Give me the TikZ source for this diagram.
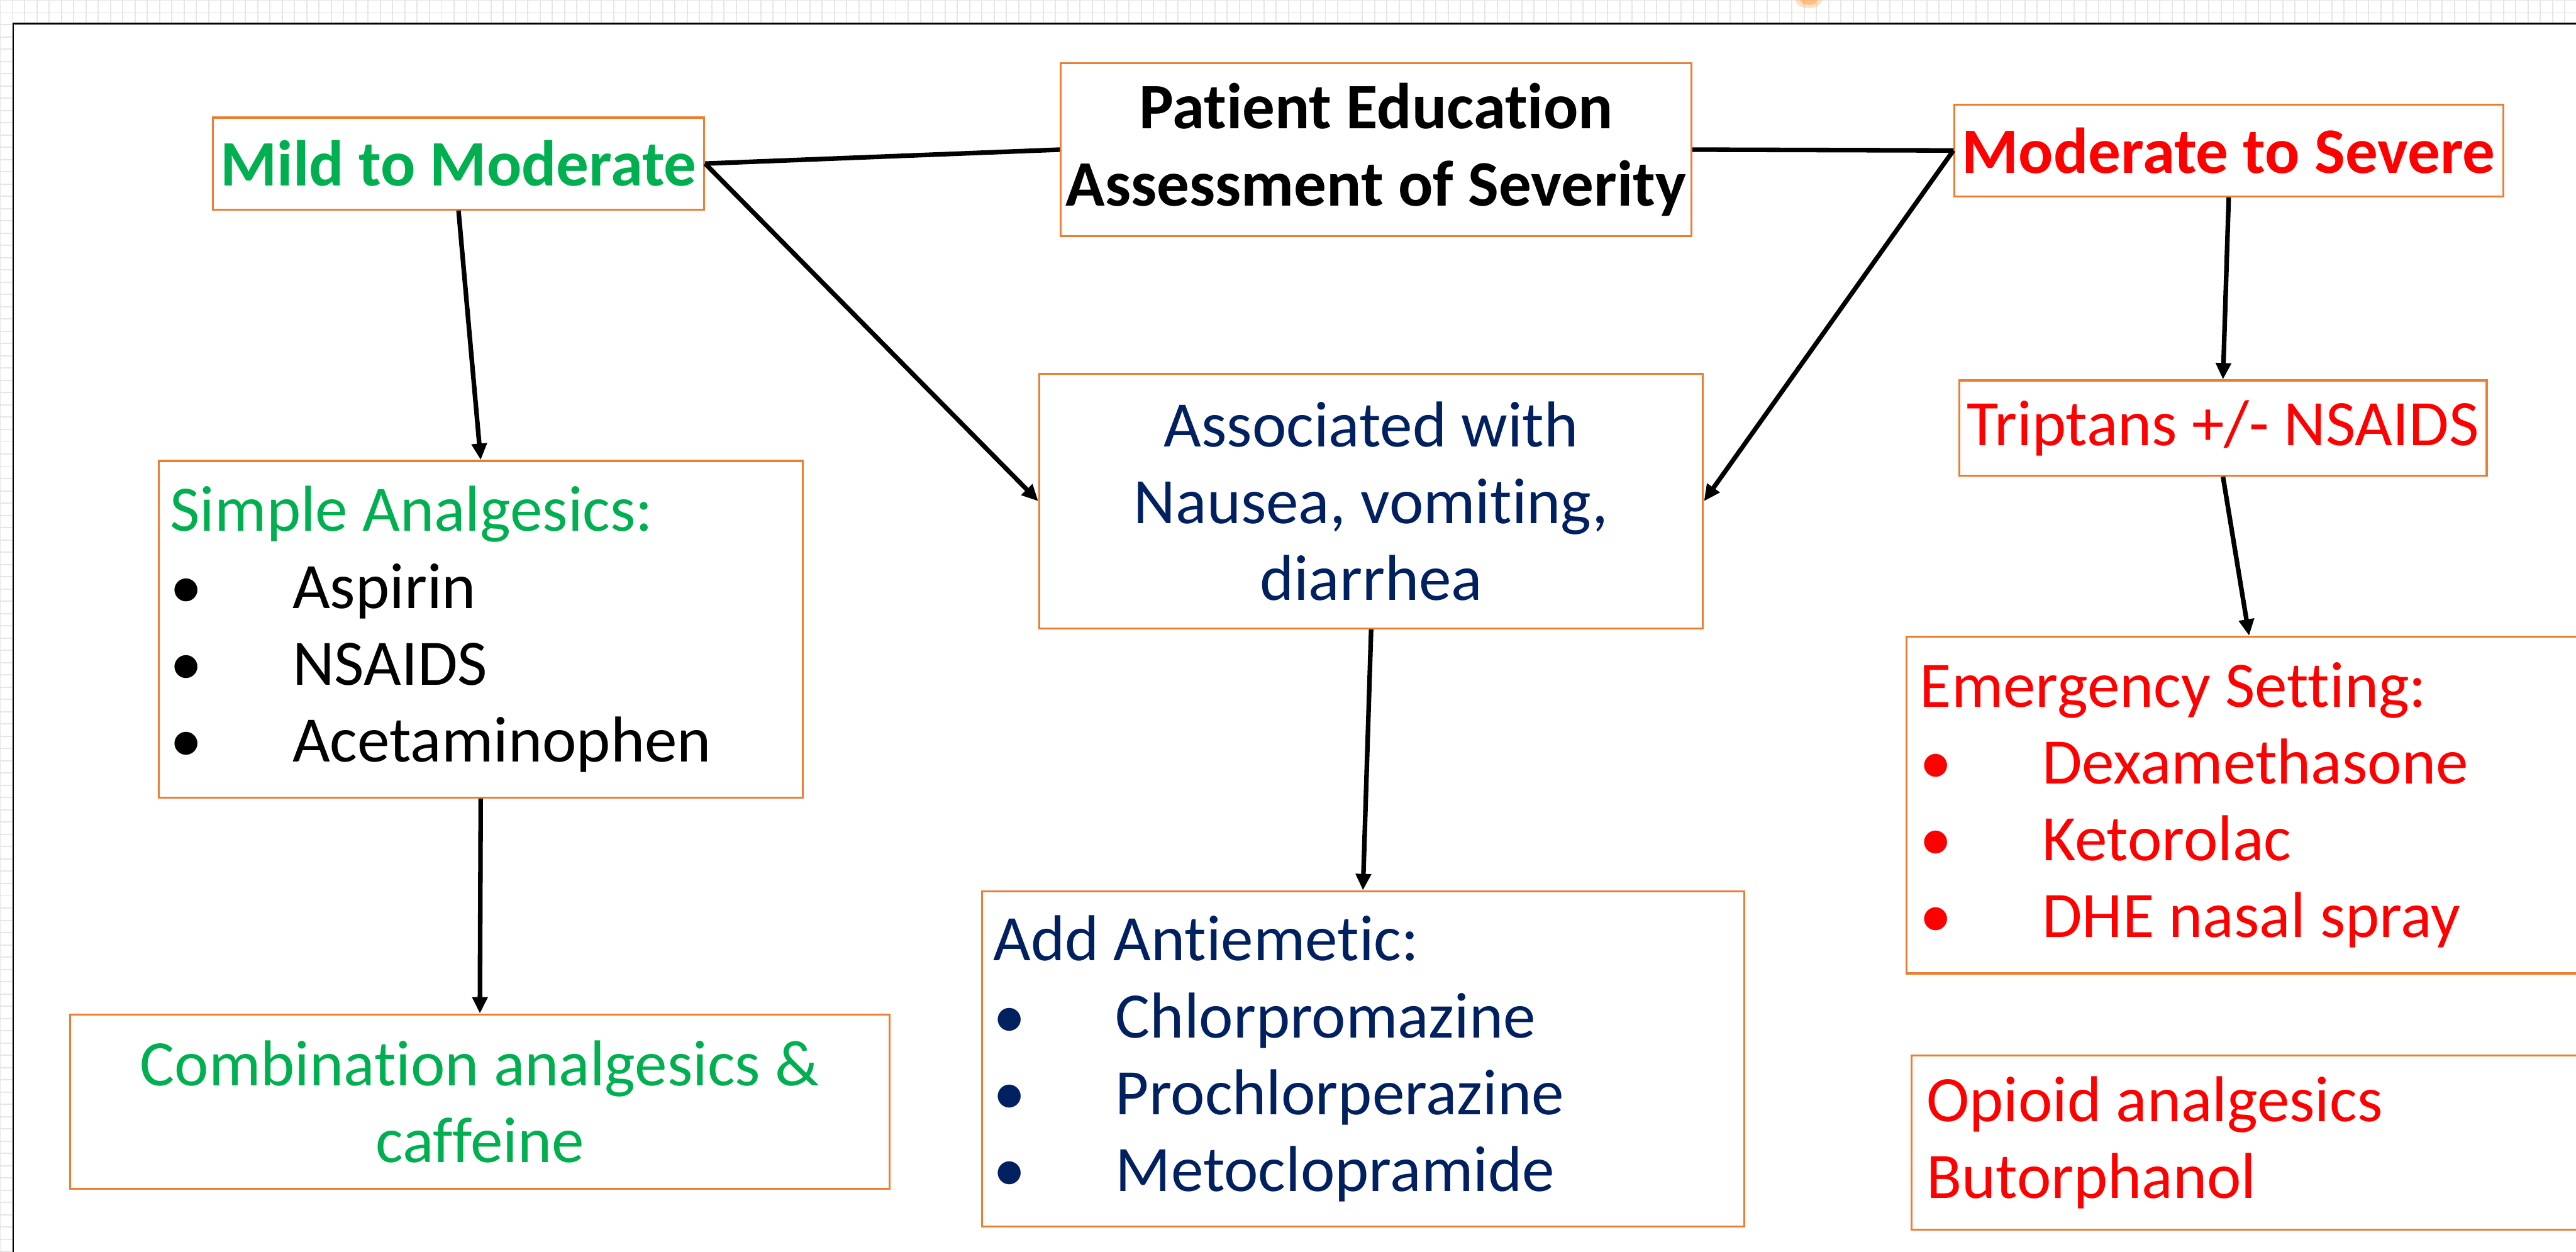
\documentclass[tikz,border=0pt]{standalone}
\usepackage{fontspec}
\setmainfont{Carlito}[Ligatures={NoCommon,NoContextual}, RawFeature={-liga;-clig;-calt;-dlig}]
\usetikzlibrary{arrows.meta}
\definecolor{boxorange}{HTML}{ED7D31}
\definecolor{mgreen}{HTML}{00B050}
\definecolor{mred}{HTML}{FF0000}
\definecolor{mnavy}{HTML}{002060}
\definecolor{gridgray}{HTML}{E6E6E6}
\newcommand{\bul}[1]{\makebox[74.5pt][l]{•}#1}
\tikzset{
  box/.style={draw=boxorange, line width=1.2pt, fill=white, inner sep=0pt, anchor=north west,
    font=\fontsize{39.5}{46.8}\selectfont},
  conn/.style={line width=2.8pt, black},
  arr/.style={conn, -{Triangle[length=10pt,width=9pt]}},
}
\begin{document}
\begin{tikzpicture}[x=1pt,y=-1pt]
\clip (0,0) rectangle (1568,762);
% background grid
\draw[gridgray, line width=0.75pt, step=7.47pt] (0,0) grid (1568,762);
\fill[orange!70, opacity=0.35] (1101,0) ellipse (8 and 5);
\fill[orange!80, opacity=0.45] (1101,0) ellipse (5 and 3);
% frame
\draw[black, line width=1pt, fill=white] (8,14.3) rectangle (1620,800);

% boxes
\node[box, minimum width=299, minimum height=56, text=mgreen, font=\fontsize{39.5}{46.8}\selectfont\bfseries] (mild) at (129,71) {Mild to Moderate};
\node[box, minimum width=384, minimum height=105, align=center, font=\fontsize{39.5}{46.8}\selectfont\bfseries] (pe) at (645,38) {Patient Education\\Assessment of Severity};
\node[box, minimum width=334, minimum height=56, text=mred, font=\fontsize{39.5}{46.8}\selectfont\bfseries] (sev) at (1189,63) {Moderate to Severe};
\node[box, minimum width=404, minimum height=155, align=center, text=mnavy] (assoc) at (632,227) {Associated with\\Nausea, vomiting,\\diarrhea};
\node[box, minimum width=321, minimum height=58, text=mred] (trip) at (1192,231) {Triptans +/- NSAIDS};
\node[box, minimum width=392, minimum height=205, text width=378pt, align=flush left] (simple) at (96,280)
  {\textcolor{mgreen}{Simple Analgesics:}\\\bul{Aspirin}\\\bul{NSAIDS}\\\bul{Acetaminophen}};
\node[box, minimum width=499, minimum height=106, align=center, text=mgreen] (comb) at (42,617) {Combination analgesics \&\\caffeine};
\node[box, minimum width=464, minimum height=204, text width=450pt, align=flush left, text=mnavy] (anti) at (597,542)
  {Add Antiemetic:\\\bul{Chlorpromazine}\\\bul{Prochlorperazine}\\\bul{Metoclopramide}};
\node[box, minimum width=440, minimum height=205, text width=424pt, align=flush left, text=mred] (emerg) at (1160,387)
  {Emergency Setting:\\\bul{Dexamethasone}\\\bul{Ketorolac}\\\bul{DHE nasal spray}};
\node[box, minimum width=440, minimum height=106, text width=422pt, align=flush left, text=mred] (opioid) at (1163,642)
  {Opioid analgesics\\Butorphanol};
\coordinate (emergin) at (1369,387);

% connectors
\draw[conn] (mild.east) -- (pe.west);
\draw[conn] (pe.east) -- (sev.west);
\draw[arr] (mild.east) -- (assoc.west);
\draw[arr] (sev.west) -- (assoc.east);
\draw[arr] (mild.south) -- (simple.north);
\draw[arr] (simple.south) -- (comb.north);
\draw[arr] (assoc.south) -- (anti.north);
\draw[arr] (sev.south) -- (trip.north);
\draw[arr] (trip.south) -- (emergin);
\end{tikzpicture}
\end{document}
